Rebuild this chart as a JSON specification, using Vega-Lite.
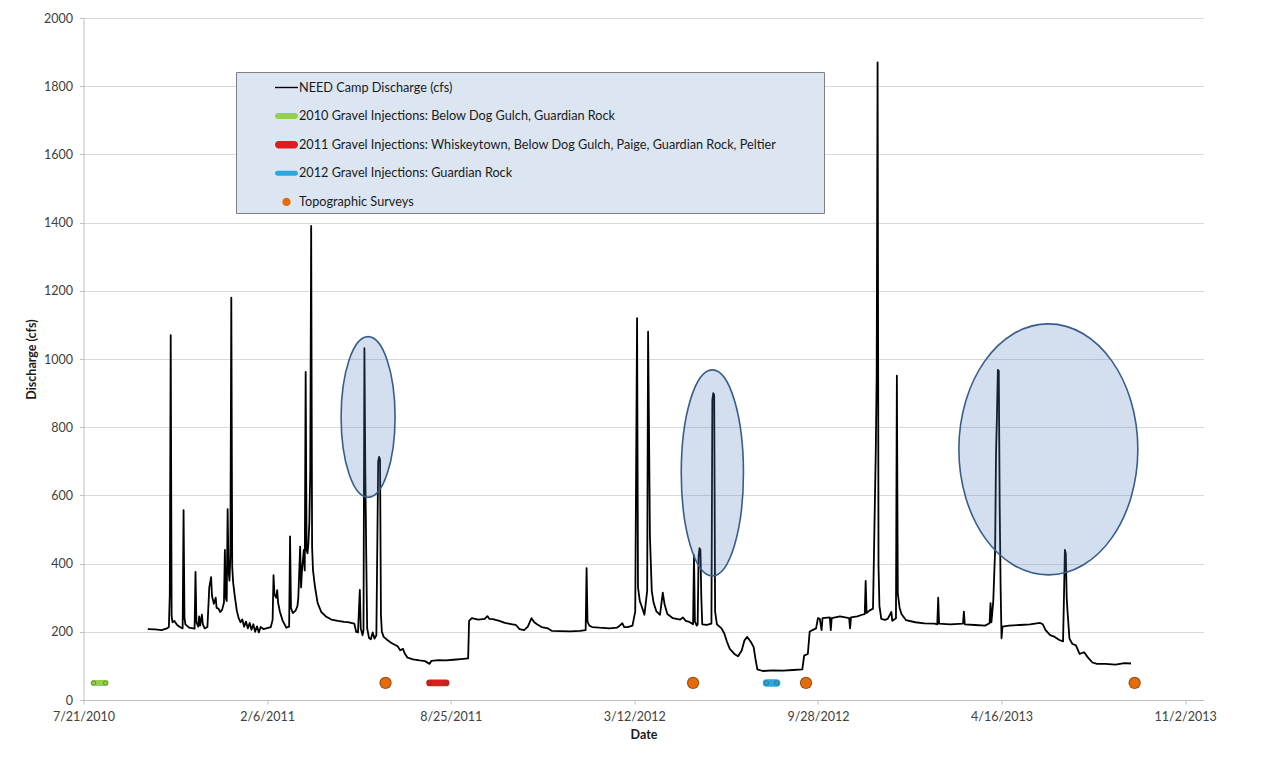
{
  "$schema": "https://vega.github.io/schema/vega-lite/v6.json",
  "width": 1120,
  "height": 682,
  "autosize": {"type": "none"},
  "padding": {"left": 83.5, "top": 18, "right": 61.5, "bottom": 67},
  "background": "white",
  "config": {
    "font": "Lato",
    "view": {"stroke": null},
    "axis": {
      "labelFont": "Lato",
      "titleFont": "Lato",
      "labelFontSize": 12.5,
      "titleFontSize": 12.5,
      "titleFontWeight": "bold",
      "labelColor": "#404040",
      "titleColor": "#1a1a1a",
      "domainColor": "#bfbfbf",
      "tickColor": "#bfbfbf",
      "tickSize": 4
    },
    "legend": {
      "title": "\u00a0",
      "titleOrient": "right",
      "titlePadding": 44,
      "titleFontSize": 12,
      "orient": "none",
      "legendX": 152.5,
      "legendY": 54,
      "direction": "vertical",
      "fillColor": "#dce6f2",
      "strokeColor": "#808080",
      "padding": 4,
      "symbolOffset": 35,
      "symbolSize": 529,
      "symbolStrokeWidth": 0,
      "symbolOpacity": 1,
      "rowPadding": 9.6,
      "labelFont": "Lato",
      "labelFontSize": 12.7,
      "labelColor": "#1a1a1a",
      "labelOffset": 1,
      "labelLimit": 700
    }
  },
  "encoding": {
    "x": {
      "field": "d",
      "type": "temporal",
      "scale": {
        "domain": [{"year": 2010, "month": 7, "date": 21}, {"year": 2013, "month": 11, "date": 22}],
        "nice": false
      },
      "axis": {
        "title": "Date",
        "grid": false,
        "format": "%-m/%-d/%Y",
        "values": [
          {"year": 2010, "month": 7, "date": 21},
          {"year": 2011, "month": 2, "date": 6},
          {"year": 2011, "month": 8, "date": 25},
          {"year": 2012, "month": 3, "date": 12},
          {"year": 2012, "month": 9, "date": 28},
          {"year": 2013, "month": 4, "date": 16},
          {"year": 2013, "month": 11, "date": 2}
        ],
        "labelPadding": 6,
        "labelFlush": false,
        "labelOverlap": false,
        "titlePadding": 6
      }
    },
    "y": {
      "field": "v",
      "type": "quantitative",
      "scale": {"domain": [0, 2000], "nice": false, "zero": false},
      "axis": {
        "title": "Discharge (cfs)",
        "values": [0, 200, 400, 600, 800, 1000, 1200, 1400, 1600, 1800, 2000],
        "format": "d",
        "grid": true,
        "gridColor": "#d9d9d9",
        "gridWidth": 1.2,
        "labelPadding": 7,
        "titlePadding": 5
      }
    }
  },
  "layer": [
    {
      "data": {
        "values": [
          {"d": "2011-06-15", "v": 50},
          {"d": "2012-05-15", "v": 50},
          {"d": "2012-09-15", "v": 50},
          {"d": "2013-09-08", "v": 50}
        ],
        "format": {"parse": {"d": "date:'%Y-%m-%d'"}}
      },
      "mark": {"type": "point", "shape": "circle", "filled": true, "size": 150, "fill": "#9f4d12", "opacity": 1}
    },
    {
      "data": {
        "values": [
          {"d": "2011-06-15", "v": 50, "s": "Topographic Surveys"},
          {"d": "2012-05-15", "v": 50, "s": "Topographic Surveys"},
          {"d": "2012-09-15", "v": 50, "s": "Topographic Surveys"},
          {"d": "2013-09-08", "v": 50, "s": "Topographic Surveys"}
        ],
        "format": {"parse": {"d": "date:'%Y-%m-%d'"}}
      },
      "mark": {"type": "point", "filled": true, "size": 772, "opacity": 1, "strokeWidth": 0},
      "encoding": {
        "color": {
          "field": "s",
          "type": "nominal",
          "scale": {
            "domain": [
              "NEED Camp Discharge (cfs)",
              "2010 Gravel Injections: Below Dog Gulch, Guardian Rock",
              "2011 Gravel Injections: Whiskeytown, Below Dog Gulch, Paige, Guardian Rock, Peltier",
              "2012 Gravel Injections: Guardian Rock",
              "Topographic Surveys"
            ],
            "range": ["#000000", "#92d050", "#e01b1b", "#2aa8dd", "#e46c0a"]
          },
          "legend": {"title": "\u00a0"}
        },
        "shape": {
          "field": "s",
          "type": "nominal",
          "scale": {
            "domain": [
              "NEED Camp Discharge (cfs)",
              "2010 Gravel Injections: Below Dog Gulch, Guardian Rock",
              "2011 Gravel Injections: Whiskeytown, Below Dog Gulch, Paige, Guardian Rock, Peltier",
              "2012 Gravel Injections: Guardian Rock",
              "Topographic Surveys"
            ],
            "range": [
              "M-1,-0.06H1V0.06H-1Z",
              "M-0.74,-0.26H0.74A0.26,0.26 0 0 1 0.74,0.26H-0.74A0.26,0.26 0 0 1 -0.74,-0.26Z",
              "M-0.68,-0.32H0.68A0.32,0.32 0 0 1 0.68,0.32H-0.68A0.32,0.32 0 0 1 -0.68,-0.32Z",
              "M-0.78,-0.22H0.78A0.22,0.22 0 0 1 0.78,0.22H-0.78A0.22,0.22 0 0 1 -0.78,-0.22Z",
              "M0.36,0A0.36,0.36 0 1 1 -0.36,0A0.36,0.36 0 1 1 0.36,0Z"
            ]
          },
          "legend": {"title": "\u00a0"}
        }
      }
    },
    {
      "data": {
        "values": [
          {"d": "2010-08-01", "v": 50, "s": "2010 Gravel Injections: Below Dog Gulch, Guardian Rock"},
          {"d": "2010-08-14", "v": 50, "s": "2010 Gravel Injections: Below Dog Gulch, Guardian Rock"},
          {"d": "2011-08-02", "v": 50, "s": "2011 Gravel Injections: Whiskeytown, Below Dog Gulch, Paige, Guardian Rock, Peltier"},
          {"d": "2011-08-20", "v": 50, "s": "2011 Gravel Injections: Whiskeytown, Below Dog Gulch, Paige, Guardian Rock, Peltier"},
          {"d": "2012-08-03", "v": 50, "s": "2012 Gravel Injections: Guardian Rock"},
          {"d": "2012-08-14", "v": 50, "s": "2012 Gravel Injections: Guardian Rock"}
        ],
        "format": {"parse": {"d": "date:'%Y-%m-%d'"}}
      },
      "layer": [
        {
          "mark": {"type": "line", "strokeCap": "round"},
          "encoding": {
            "color": {"field": "s", "type": "nominal", "legend": null},
            "strokeWidth": {
              "field": "s",
              "type": "nominal",
              "scale": {
                "domain": [
                  "2010 Gravel Injections: Below Dog Gulch, Guardian Rock",
                  "2011 Gravel Injections: Whiskeytown, Below Dog Gulch, Paige, Guardian Rock, Peltier",
                  "2012 Gravel Injections: Guardian Rock"
                ],
                "range": [6, 7.5, 4.5]
              },
              "legend": null
            }
          }
        },
        {
          "mark": {"type": "point", "filled": true, "size": 18, "opacity": 1, "stroke": "#3a4a2a", "strokeWidth": 0.8, "strokeOpacity": 0.6},
          "encoding": {
            "color": {"field": "s", "type": "nominal", "legend": null}
          }
        }
      ]
    },
    {
      "data": {
        "values": [
          {"d": "2010-09-29", "v": 208}, {"d": "2010-10-07", "v": 207}, {"d": "2010-10-14", "v": 205},
          {"d": "2010-10-20", "v": 210}, {"d": "2010-10-22", "v": 214}, {"d": "2010-10-23", "v": 310},
          {"d": "2010-10-24", "v": 1070}, {"d": "2010-10-25", "v": 245}, {"d": "2010-10-26", "v": 228},
          {"d": "2010-10-28", "v": 232}, {"d": "2010-10-31", "v": 220}, {"d": "2010-11-03", "v": 214},
          {"d": "2010-11-06", "v": 210}, {"d": "2010-11-07", "v": 557}, {"d": "2010-11-08", "v": 240},
          {"d": "2010-11-09", "v": 222}, {"d": "2010-11-13", "v": 212}, {"d": "2010-11-19", "v": 209},
          {"d": "2010-11-20", "v": 376}, {"d": "2010-11-21", "v": 228}, {"d": "2010-11-23", "v": 215},
          {"d": "2010-11-24", "v": 245}, {"d": "2010-11-25", "v": 218}, {"d": "2010-11-27", "v": 250},
          {"d": "2010-11-28", "v": 222}, {"d": "2010-11-30", "v": 210}, {"d": "2010-12-03", "v": 214},
          {"d": "2010-12-05", "v": 330}, {"d": "2010-12-07", "v": 360}, {"d": "2010-12-08", "v": 305},
          {"d": "2010-12-10", "v": 282}, {"d": "2010-12-12", "v": 300}, {"d": "2010-12-13", "v": 270},
          {"d": "2010-12-15", "v": 268}, {"d": "2010-12-17", "v": 258}, {"d": "2010-12-19", "v": 265},
          {"d": "2010-12-21", "v": 285}, {"d": "2010-12-22", "v": 440}, {"d": "2010-12-23", "v": 300},
          {"d": "2010-12-24", "v": 290}, {"d": "2010-12-25", "v": 560}, {"d": "2010-12-26", "v": 380},
          {"d": "2010-12-27", "v": 350}, {"d": "2010-12-28", "v": 420}, {"d": "2010-12-29", "v": 1180},
          {"d": "2010-12-30", "v": 390}, {"d": "2010-12-31", "v": 345}, {"d": "2011-01-02", "v": 300},
          {"d": "2011-01-04", "v": 262}, {"d": "2011-01-06", "v": 240}, {"d": "2011-01-08", "v": 228},
          {"d": "2011-01-10", "v": 236}, {"d": "2011-01-12", "v": 215}, {"d": "2011-01-14", "v": 230},
          {"d": "2011-01-16", "v": 210}, {"d": "2011-01-18", "v": 226}, {"d": "2011-01-20", "v": 206},
          {"d": "2011-01-22", "v": 222}, {"d": "2011-01-24", "v": 200}, {"d": "2011-01-26", "v": 216},
          {"d": "2011-01-28", "v": 198}, {"d": "2011-01-30", "v": 214}, {"d": "2011-02-02", "v": 208},
          {"d": "2011-02-06", "v": 211}, {"d": "2011-02-10", "v": 214}, {"d": "2011-02-12", "v": 235},
          {"d": "2011-02-13", "v": 366}, {"d": "2011-02-14", "v": 310}, {"d": "2011-02-16", "v": 300},
          {"d": "2011-02-17", "v": 322}, {"d": "2011-02-18", "v": 285}, {"d": "2011-02-20", "v": 258},
          {"d": "2011-02-23", "v": 232}, {"d": "2011-02-27", "v": 212}, {"d": "2011-03-02", "v": 215},
          {"d": "2011-03-03", "v": 480}, {"d": "2011-03-04", "v": 270}, {"d": "2011-03-06", "v": 255},
          {"d": "2011-03-09", "v": 262}, {"d": "2011-03-11", "v": 275}, {"d": "2011-03-12", "v": 300},
          {"d": "2011-03-14", "v": 450}, {"d": "2011-03-15", "v": 330}, {"d": "2011-03-16", "v": 380},
          {"d": "2011-03-18", "v": 440}, {"d": "2011-03-19", "v": 380}, {"d": "2011-03-20", "v": 962},
          {"d": "2011-03-21", "v": 440}, {"d": "2011-03-22", "v": 430}, {"d": "2011-03-23", "v": 460},
          {"d": "2011-03-24", "v": 520}, {"d": "2011-03-25", "v": 670}, {"d": "2011-03-26", "v": 1390},
          {"d": "2011-03-27", "v": 450}, {"d": "2011-03-28", "v": 380}, {"d": "2011-03-30", "v": 335},
          {"d": "2011-04-02", "v": 285}, {"d": "2011-04-06", "v": 258}, {"d": "2011-04-11", "v": 245},
          {"d": "2011-04-17", "v": 236}, {"d": "2011-04-24", "v": 232}, {"d": "2011-05-01", "v": 229},
          {"d": "2011-05-06", "v": 228}, {"d": "2011-05-12", "v": 224}, {"d": "2011-05-14", "v": 200},
          {"d": "2011-05-16", "v": 198}, {"d": "2011-05-18", "v": 323}, {"d": "2011-05-19", "v": 210},
          {"d": "2011-05-21", "v": 190}, {"d": "2011-05-22", "v": 205}, {"d": "2011-05-23", "v": 1032},
          {"d": "2011-05-24", "v": 665}, {"d": "2011-05-25", "v": 420}, {"d": "2011-05-26", "v": 210},
          {"d": "2011-05-28", "v": 182}, {"d": "2011-05-30", "v": 178}, {"d": "2011-06-01", "v": 198},
          {"d": "2011-06-03", "v": 180}, {"d": "2011-06-05", "v": 190}, {"d": "2011-06-07", "v": 700},
          {"d": "2011-06-08", "v": 713}, {"d": "2011-06-09", "v": 705}, {"d": "2011-06-10", "v": 250},
          {"d": "2011-06-11", "v": 200}, {"d": "2011-06-13", "v": 185}, {"d": "2011-06-17", "v": 176},
          {"d": "2011-06-21", "v": 168}, {"d": "2011-06-25", "v": 162}, {"d": "2011-06-28", "v": 158},
          {"d": "2011-07-01", "v": 146}, {"d": "2011-07-04", "v": 150}, {"d": "2011-07-06", "v": 136},
          {"d": "2011-07-09", "v": 124}, {"d": "2011-07-15", "v": 119}, {"d": "2011-07-22", "v": 116},
          {"d": "2011-07-28", "v": 114}, {"d": "2011-08-02", "v": 106}, {"d": "2011-08-04", "v": 115},
          {"d": "2011-08-12", "v": 117}, {"d": "2011-08-20", "v": 116}, {"d": "2011-08-28", "v": 118},
          {"d": "2011-09-05", "v": 120}, {"d": "2011-09-13", "v": 122}, {"d": "2011-09-14", "v": 232},
          {"d": "2011-09-17", "v": 240}, {"d": "2011-09-24", "v": 236}, {"d": "2011-10-01", "v": 238},
          {"d": "2011-10-04", "v": 246}, {"d": "2011-10-06", "v": 238}, {"d": "2011-10-10", "v": 237},
          {"d": "2011-10-17", "v": 232}, {"d": "2011-10-23", "v": 226}, {"d": "2011-10-31", "v": 222},
          {"d": "2011-11-04", "v": 220}, {"d": "2011-11-08", "v": 208}, {"d": "2011-11-13", "v": 205},
          {"d": "2011-11-17", "v": 215}, {"d": "2011-11-21", "v": 240}, {"d": "2011-11-24", "v": 228},
          {"d": "2011-11-27", "v": 222}, {"d": "2011-12-02", "v": 214}, {"d": "2011-12-09", "v": 210},
          {"d": "2011-12-13", "v": 203}, {"d": "2011-12-22", "v": 202}, {"d": "2012-01-02", "v": 201},
          {"d": "2012-01-13", "v": 203}, {"d": "2012-01-19", "v": 205}, {"d": "2012-01-20", "v": 387},
          {"d": "2012-01-21", "v": 230}, {"d": "2012-01-23", "v": 218}, {"d": "2012-01-26", "v": 214},
          {"d": "2012-02-03", "v": 212}, {"d": "2012-02-14", "v": 210}, {"d": "2012-02-22", "v": 212},
          {"d": "2012-02-25", "v": 218}, {"d": "2012-02-28", "v": 225}, {"d": "2012-03-01", "v": 214},
          {"d": "2012-03-05", "v": 214}, {"d": "2012-03-10", "v": 218}, {"d": "2012-03-13", "v": 260},
          {"d": "2012-03-15", "v": 1120}, {"d": "2012-03-16", "v": 330}, {"d": "2012-03-18", "v": 290},
          {"d": "2012-03-20", "v": 275}, {"d": "2012-03-23", "v": 250}, {"d": "2012-03-26", "v": 320},
          {"d": "2012-03-27", "v": 1080}, {"d": "2012-03-28", "v": 790}, {"d": "2012-03-29", "v": 480},
          {"d": "2012-03-31", "v": 320}, {"d": "2012-04-02", "v": 285}, {"d": "2012-04-05", "v": 260},
          {"d": "2012-04-09", "v": 250}, {"d": "2012-04-12", "v": 315}, {"d": "2012-04-14", "v": 280},
          {"d": "2012-04-17", "v": 252}, {"d": "2012-04-23", "v": 240}, {"d": "2012-05-01", "v": 236},
          {"d": "2012-05-04", "v": 242}, {"d": "2012-05-07", "v": 232}, {"d": "2012-05-10", "v": 230},
          {"d": "2012-05-14", "v": 224}, {"d": "2012-05-15", "v": 222}, {"d": "2012-05-16", "v": 425},
          {"d": "2012-05-17", "v": 230}, {"d": "2012-05-19", "v": 218}, {"d": "2012-05-20", "v": 222},
          {"d": "2012-05-21", "v": 420}, {"d": "2012-05-22", "v": 445}, {"d": "2012-05-23", "v": 440},
          {"d": "2012-05-24", "v": 300}, {"d": "2012-05-25", "v": 222}, {"d": "2012-05-30", "v": 220},
          {"d": "2012-06-04", "v": 224}, {"d": "2012-06-05", "v": 880}, {"d": "2012-06-06", "v": 900},
          {"d": "2012-06-07", "v": 895}, {"d": "2012-06-08", "v": 260}, {"d": "2012-06-09", "v": 240},
          {"d": "2012-06-10", "v": 222}, {"d": "2012-06-15", "v": 210}, {"d": "2012-06-18", "v": 195},
          {"d": "2012-06-21", "v": 170}, {"d": "2012-06-24", "v": 150}, {"d": "2012-06-29", "v": 135},
          {"d": "2012-07-03", "v": 128}, {"d": "2012-07-07", "v": 145}, {"d": "2012-07-10", "v": 175},
          {"d": "2012-07-13", "v": 185}, {"d": "2012-07-17", "v": 170}, {"d": "2012-07-20", "v": 155},
          {"d": "2012-07-22", "v": 120}, {"d": "2012-07-24", "v": 90}, {"d": "2012-07-30", "v": 85},
          {"d": "2012-08-10", "v": 87}, {"d": "2012-08-21", "v": 86}, {"d": "2012-09-01", "v": 88},
          {"d": "2012-09-11", "v": 90}, {"d": "2012-09-13", "v": 130}, {"d": "2012-09-17", "v": 135},
          {"d": "2012-09-19", "v": 200}, {"d": "2012-09-22", "v": 205}, {"d": "2012-09-26", "v": 210},
          {"d": "2012-09-28", "v": 240}, {"d": "2012-09-30", "v": 238}, {"d": "2012-10-02", "v": 205},
          {"d": "2012-10-03", "v": 240}, {"d": "2012-10-11", "v": 242}, {"d": "2012-10-12", "v": 205},
          {"d": "2012-10-13", "v": 240}, {"d": "2012-10-22", "v": 245}, {"d": "2012-11-01", "v": 240},
          {"d": "2012-11-02", "v": 210}, {"d": "2012-11-03", "v": 242}, {"d": "2012-11-10", "v": 245},
          {"d": "2012-11-15", "v": 250}, {"d": "2012-11-18", "v": 252}, {"d": "2012-11-19", "v": 349},
          {"d": "2012-11-20", "v": 255}, {"d": "2012-11-23", "v": 262}, {"d": "2012-11-27", "v": 268},
          {"d": "2012-11-30", "v": 727}, {"d": "2012-12-01", "v": 951}, {"d": "2012-12-02", "v": 1870},
          {"d": "2012-12-03", "v": 392}, {"d": "2012-12-04", "v": 276}, {"d": "2012-12-06", "v": 238},
          {"d": "2012-12-10", "v": 235}, {"d": "2012-12-13", "v": 238}, {"d": "2012-12-17", "v": 258},
          {"d": "2012-12-18", "v": 232}, {"d": "2012-12-22", "v": 240}, {"d": "2012-12-23", "v": 951},
          {"d": "2012-12-24", "v": 313}, {"d": "2012-12-26", "v": 270}, {"d": "2012-12-28", "v": 252},
          {"d": "2013-01-02", "v": 234}, {"d": "2013-01-12", "v": 228}, {"d": "2013-01-22", "v": 225},
          {"d": "2013-02-02", "v": 224}, {"d": "2013-02-05", "v": 222}, {"d": "2013-02-06", "v": 300},
          {"d": "2013-02-07", "v": 224}, {"d": "2013-02-19", "v": 222}, {"d": "2013-03-05", "v": 224},
          {"d": "2013-03-06", "v": 259}, {"d": "2013-03-07", "v": 222}, {"d": "2013-03-18", "v": 220},
          {"d": "2013-03-29", "v": 218}, {"d": "2013-04-03", "v": 225}, {"d": "2013-04-04", "v": 284},
          {"d": "2013-04-05", "v": 228}, {"d": "2013-04-07", "v": 290}, {"d": "2013-04-09", "v": 440},
          {"d": "2013-04-10", "v": 723}, {"d": "2013-04-11", "v": 831}, {"d": "2013-04-12", "v": 968},
          {"d": "2013-04-13", "v": 965}, {"d": "2013-04-14", "v": 567}, {"d": "2013-04-15", "v": 330},
          {"d": "2013-04-16", "v": 181}, {"d": "2013-04-17", "v": 215}, {"d": "2013-04-24", "v": 218},
          {"d": "2013-05-06", "v": 220}, {"d": "2013-05-17", "v": 222}, {"d": "2013-05-28", "v": 226},
          {"d": "2013-05-31", "v": 222}, {"d": "2013-06-03", "v": 205}, {"d": "2013-06-08", "v": 190},
          {"d": "2013-06-13", "v": 185}, {"d": "2013-06-18", "v": 176}, {"d": "2013-06-22", "v": 172},
          {"d": "2013-06-23", "v": 300}, {"d": "2013-06-24", "v": 440}, {"d": "2013-06-25", "v": 430},
          {"d": "2013-06-26", "v": 300}, {"d": "2013-06-27", "v": 255}, {"d": "2013-06-29", "v": 180},
          {"d": "2013-07-02", "v": 165}, {"d": "2013-07-06", "v": 160}, {"d": "2013-07-10", "v": 135},
          {"d": "2013-07-15", "v": 140}, {"d": "2013-07-19", "v": 125}, {"d": "2013-07-24", "v": 110},
          {"d": "2013-07-29", "v": 106}, {"d": "2013-08-07", "v": 106}, {"d": "2013-08-18", "v": 104},
          {"d": "2013-08-28", "v": 108}, {"d": "2013-09-04", "v": 107}
        ],
        "format": {"parse": {"d": "date:'%Y-%m-%d'"}}
      },
      "mark": {"type": "line", "strokeWidth": 1.8, "strokeJoin": "round", "color": "#000000"}
    },
    {
      "data": {"values": [{"d": "2011-05-27", "v": 830}], "format": {"parse": {"d": "date:'%Y-%m-%d'"}}},
      "mark": {
        "type": "point", "filled": true, "opacity": 1,
        "shape": "M0,-1C0.1856,-1 0.336,-0.5523 0.336,0C0.336,0.5523 0.1856,1 0,1C-0.1856,1 -0.336,0.5523 -0.336,0C-0.336,-0.5523 -0.1856,-1 0,-1Z",
        "size": 25792, "fill": "#4f81bd", "fillOpacity": 0.25, "stroke": "#385d8a", "strokeWidth": 1.6
      }
    },
    {
      "data": {"values": [{"d": "2012-06-05", "v": 666}], "format": {"parse": {"d": "date:'%Y-%m-%d'"}}},
      "mark": {
        "type": "point", "filled": true, "opacity": 1,
        "shape": "M0,-1C0.1668,-1 0.302,-0.5523 0.302,0C0.302,0.5523 0.1668,1 0,1C-0.1668,1 -0.302,0.5523 -0.302,0C-0.302,-0.5523 -0.1668,-1 0,-1Z",
        "size": 42436, "fill": "#4f81bd", "fillOpacity": 0.25, "stroke": "#385d8a", "strokeWidth": 1.6
      }
    },
    {
      "data": {"values": [{"d": "2013-06-06", "v": 735}], "format": {"parse": {"d": "date:'%Y-%m-%d'"}}},
      "mark": {
        "type": "point", "filled": true, "opacity": 1,
        "shape": "M0,-1C0.3938,-1 0.713,-0.5523 0.713,0C0.713,0.5523 0.3938,1 0,1C-0.3938,1 -0.713,0.5523 -0.713,0C-0.713,-0.5523 -0.3938,-1 0,-1Z",
        "size": 63001, "fill": "#4f81bd", "fillOpacity": 0.25, "stroke": "#385d8a", "strokeWidth": 1.6
      }
    }
  ]
}
